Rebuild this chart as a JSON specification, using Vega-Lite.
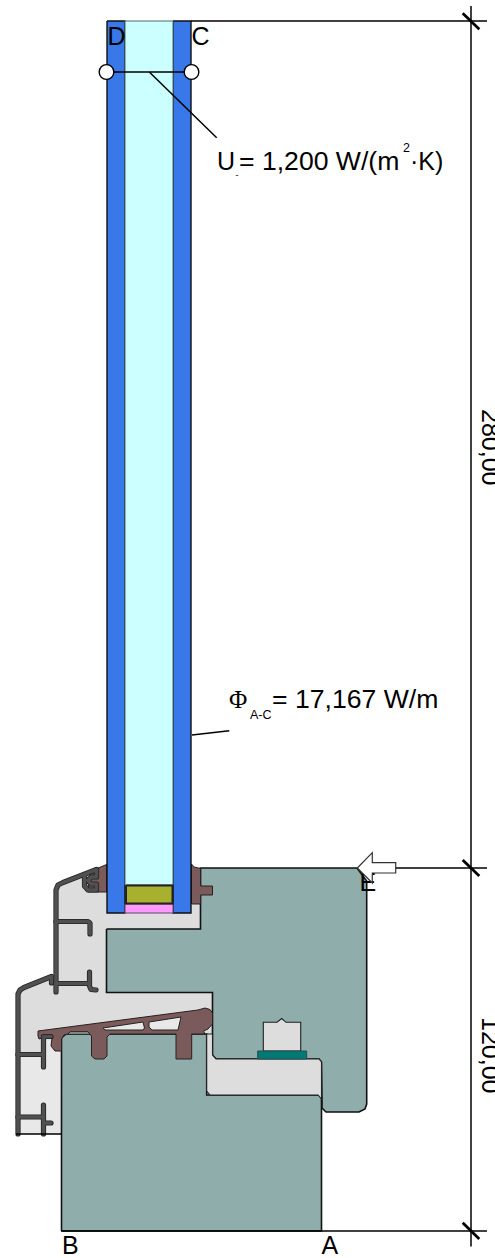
{"$schema":"https://vega.github.io/schema/vega-lite/v6.json","width":495,"height":1258,"padding":0,"autosize":"none","background":"white","config":{"view":{"stroke":null}},
"datasets":{"shapes":[
{"p":"light","s":"l1","i":0,"x":18,"y":1055},{"p":"light","s":"l1","i":1,"x":44,"y":1055},{"p":"light","s":"l1","i":2,"x":44,"y":1036},{"p":"light","s":"l1","i":3,"x":61.5,"y":1036},{"p":"light","s":"l1","i":4,"x":61.5,"y":1134},{"p":"light","s":"l1","i":5,"x":18,"y":1134},{"p":"light","s":"l1","i":6,"x":18,"y":1055},
{"p":"gray","s":"g1","i":0,"x":56,"y":890},{"p":"gray","s":"g1","i":1,"x":58,"y":885},{"p":"gray","s":"g1","i":2,"x":63,"y":882.5},{"p":"gray","s":"g1","i":3,"x":107,"y":866},{"p":"gray","s":"g1","i":4,"x":107,"y":913},{"p":"gray","s":"g1","i":5,"x":200.5,"y":904},{"p":"gray","s":"g1","i":6,"x":200.5,"y":929},{"p":"gray","s":"g1","i":7,"x":106.5,"y":929},{"p":"gray","s":"g1","i":8,"x":106.5,"y":992.5},{"p":"gray","s":"g1","i":9,"x":212.5,"y":992.5},{"p":"gray","s":"g1","i":10,"x":212.5,"y":1040},{"p":"gray","s":"g1","i":11,"x":44,"y":1040},{"p":"gray","s":"g1","i":12,"x":44,"y":1055},{"p":"gray","s":"g1","i":13,"x":18,"y":1055},{"p":"gray","s":"g1","i":14,"x":18,"y":994},{"p":"gray","s":"g1","i":15,"x":20,"y":990},{"p":"gray","s":"g1","i":16,"x":24,"y":987.5},{"p":"gray","s":"g1","i":17,"x":54,"y":976.5},
{"p":"teal","s":"frame","i":0,"x":61.5,"y":1231},{"p":"teal","s":"frame","i":1,"x":321.5,"y":1231},{"p":"teal","s":"frame","i":2,"x":321.5,"y":1095},{"p":"teal","s":"frame","i":3,"x":206.7,"y":1095},{"p":"teal","s":"frame","i":4,"x":206.7,"y":1034},{"p":"teal","s":"frame","i":5,"x":66,"y":1034},{"p":"teal","s":"frame","i":6,"x":61.5,"y":1038},{"p":"teal","s":"frame","i":7,"x":61.5,"y":1231},
{"p":"teal","s":"sash","i":0,"x":106.5,"y":929},{"p":"teal","s":"sash","i":1,"x":200.5,"y":929},{"p":"teal","s":"sash","i":2,"x":200.5,"y":868},{"p":"teal","s":"sash","i":3,"x":357,"y":868},{"p":"teal","s":"sash","i":4,"x":366.7,"y":881},{"p":"teal","s":"sash","i":5,"x":366.7,"y":1104},{"p":"teal","s":"sash","i":6,"x":365,"y":1109},{"p":"teal","s":"sash","i":7,"x":359,"y":1112},{"p":"teal","s":"sash","i":8,"x":326,"y":1112},{"p":"teal","s":"sash","i":9,"x":322,"y":1108},{"p":"teal","s":"sash","i":10,"x":322,"y":1099},{"p":"teal","s":"sash","i":11,"x":321.5,"y":1062},{"p":"teal","s":"sash","i":12,"x":319,"y":1059},{"p":"teal","s":"sash","i":13,"x":216,"y":1059},{"p":"teal","s":"sash","i":14,"x":212.5,"y":1055},{"p":"teal","s":"sash","i":15,"x":212.5,"y":992.5},{"p":"teal","s":"sash","i":16,"x":106.5,"y":992.5},{"p":"teal","s":"sash","i":17,"x":106.5,"y":929},
{"p":"slot","s":"slot","i":0,"x":206.7,"y":1034},{"p":"slot","s":"slot","i":1,"x":212.5,"y":1034},{"p":"slot","s":"slot","i":2,"x":212.5,"y":1055},{"p":"slot","s":"slot","i":3,"x":216,"y":1059},{"p":"slot","s":"slot","i":4,"x":319,"y":1059},{"p":"slot","s":"slot","i":5,"x":321.5,"y":1062},{"p":"slot","s":"slot","i":6,"x":321.5,"y":1099},{"p":"slot","s":"slot","i":7,"x":318,"y":1095},{"p":"slot","s":"slot","i":8,"x":210,"y":1095},{"p":"slot","s":"slot","i":9,"x":206.7,"y":1091},{"p":"slot","s":"slot","i":10,"x":206.7,"y":1034},
{"p":"slot","s":"bolt","i":0,"x":263.3,"y":1051},{"p":"slot","s":"bolt","i":1,"x":263.3,"y":1022.3},{"p":"slot","s":"bolt","i":2,"x":277,"y":1022.3},{"p":"slot","s":"bolt","i":3,"x":281.7,"y":1018.5},{"p":"slot","s":"bolt","i":4,"x":286,"y":1022.3},{"p":"slot","s":"bolt","i":5,"x":300.7,"y":1022.3},{"p":"slot","s":"bolt","i":6,"x":300.7,"y":1051},{"p":"slot","s":"bolt","i":7,"x":263.3,"y":1051},
{"p":"gasket","s":"gk","i":0,"x":257.7,"y":1051},{"p":"gasket","s":"gk","i":1,"x":306.7,"y":1051},{"p":"gasket","s":"gk","i":2,"x":306.7,"y":1059},{"p":"gasket","s":"gk","i":3,"x":257.7,"y":1059},{"p":"gasket","s":"gk","i":4,"x":257.7,"y":1051},
{"p":"brown","s":"drip","i":0,"x":38,"y":1031},{"p":"brown","s":"drip","i":1,"x":198,"y":1010},{"p":"brown","s":"drip","i":2,"x":205,"y":1008},{"p":"brown","s":"drip","i":3,"x":210,"y":1009.5},{"p":"brown","s":"drip","i":4,"x":212.5,"y":1013},{"p":"brown","s":"drip","i":5,"x":212.5,"y":1024},{"p":"brown","s":"drip","i":6,"x":208,"y":1029},{"p":"brown","s":"drip","i":7,"x":203.5,"y":1031},{"p":"brown","s":"drip","i":8,"x":205,"y":1034},{"p":"brown","s":"drip","i":9,"x":191.7,"y":1034},{"p":"brown","s":"drip","i":10,"x":191.7,"y":1059},{"p":"brown","s":"drip","i":11,"x":176,"y":1059},{"p":"brown","s":"drip","i":12,"x":176,"y":1034},{"p":"brown","s":"drip","i":13,"x":110,"y":1034},{"p":"brown","s":"drip","i":14,"x":107,"y":1037},{"p":"brown","s":"drip","i":15,"x":107,"y":1056},{"p":"brown","s":"drip","i":16,"x":104,"y":1059},{"p":"brown","s":"drip","i":17,"x":95,"y":1059},{"p":"brown","s":"drip","i":18,"x":91.5,"y":1056},{"p":"brown","s":"drip","i":19,"x":91.5,"y":1036},{"p":"brown","s":"drip","i":20,"x":88,"y":1032},{"p":"brown","s":"drip","i":21,"x":70,"y":1032},{"p":"brown","s":"drip","i":22,"x":68,"y":1034},{"p":"brown","s":"drip","i":23,"x":64,"y":1035},{"p":"brown","s":"drip","i":24,"x":61.5,"y":1039},{"p":"brown","s":"drip","i":25,"x":61.5,"y":1051},{"p":"brown","s":"drip","i":26,"x":55,"y":1051},{"p":"brown","s":"drip","i":27,"x":51,"y":1046},{"p":"brown","s":"drip","i":28,"x":52,"y":1038},{"p":"brown","s":"drip","i":29,"x":42,"y":1038},{"p":"brown","s":"drip","i":30,"x":39,"y":1039},{"p":"brown","s":"drip","i":31,"x":38,"y":1036},{"p":"brown","s":"drip","i":32,"x":38,"y":1031},
{"p":"brown","s":"wedgeL","i":0,"x":90,"y":871.5},{"p":"brown","s":"wedgeL","i":1,"x":106.5,"y":864.5},{"p":"brown","s":"wedgeL","i":2,"x":106.5,"y":892},{"p":"brown","s":"wedgeL","i":3,"x":88,"y":892},{"p":"brown","s":"wedgeL","i":4,"x":90,"y":871.5},
{"p":"brown","s":"wedgeR","i":0,"x":191.5,"y":864},{"p":"brown","s":"wedgeR","i":1,"x":194,"y":867},{"p":"brown","s":"wedgeR","i":2,"x":200.6,"y":868.5},{"p":"brown","s":"wedgeR","i":3,"x":200.6,"y":886},{"p":"brown","s":"wedgeR","i":4,"x":212.5,"y":886},{"p":"brown","s":"wedgeR","i":5,"x":212.5,"y":895},{"p":"brown","s":"wedgeR","i":6,"x":200.6,"y":895},{"p":"brown","s":"wedgeR","i":7,"x":200.6,"y":904},{"p":"brown","s":"wedgeR","i":8,"x":191.5,"y":904},{"p":"brown","s":"wedgeR","i":9,"x":191.5,"y":864},
{"p":"hole","s":"h1","i":0,"x":103,"y":1028},{"p":"hole","s":"h1","i":1,"x":143,"y":1022},{"p":"hole","s":"h1","i":2,"x":144.5,"y":1028},{"p":"hole","s":"h1","i":3,"x":143,"y":1030},{"p":"hole","s":"h1","i":4,"x":105,"y":1030},{"p":"hole","s":"h1","i":5,"x":103,"y":1028},
{"p":"hole","s":"h2","i":0,"x":149,"y":1022},{"p":"hole","s":"h2","i":1,"x":181,"y":1017},{"p":"hole","s":"h2","i":2,"x":178,"y":1030},{"p":"hole","s":"h2","i":3,"x":152,"y":1030},{"p":"hole","s":"h2","i":4,"x":149,"y":1027},{"p":"hole","s":"h2","i":5,"x":149,"y":1022},
{"p":"hole","s":"h3","i":0,"x":70,"y":1032},{"p":"hole","s":"h3","i":1,"x":88,"y":1032},{"p":"hole","s":"h3","i":2,"x":90,"y":1034},{"p":"hole","s":"h3","i":3,"x":68,"y":1034},{"p":"hole","s":"h3","i":4,"x":70,"y":1032},
{"p":"blue","s":"bl","i":0,"x":107,"y":21},{"p":"blue","s":"bl","i":1,"x":125,"y":21},{"p":"blue","s":"bl","i":2,"x":125,"y":913},{"p":"blue","s":"bl","i":3,"x":107,"y":913},{"p":"blue","s":"bl","i":4,"x":107,"y":21},
{"p":"blue","s":"br","i":0,"x":173,"y":21},{"p":"blue","s":"br","i":1,"x":191,"y":21},{"p":"blue","s":"br","i":2,"x":191,"y":913},{"p":"blue","s":"br","i":3,"x":173,"y":913},{"p":"blue","s":"br","i":4,"x":173,"y":21},
{"p":"cyan","s":"cy","i":0,"x":125,"y":21},{"p":"cyan","s":"cy","i":1,"x":173,"y":21},{"p":"cyan","s":"cy","i":2,"x":173,"y":885},{"p":"cyan","s":"cy","i":3,"x":125,"y":885},{"p":"cyan","s":"cy","i":4,"x":125,"y":21},
{"p":"olive","s":"ol","i":0,"x":126,"y":885.5},{"p":"olive","s":"ol","i":1,"x":172.5,"y":885.5},{"p":"olive","s":"ol","i":2,"x":172.5,"y":903.5},{"p":"olive","s":"ol","i":3,"x":126,"y":903.5},{"p":"olive","s":"ol","i":4,"x":126,"y":885.5},
{"p":"pink","s":"pk","i":0,"x":125,"y":904},{"p":"pink","s":"pk","i":1,"x":173,"y":904},{"p":"pink","s":"pk","i":2,"x":173,"y":913},{"p":"pink","s":"pk","i":3,"x":125,"y":913},{"p":"pink","s":"pk","i":4,"x":125,"y":904},
{"p":"dark","s":"out1","i":0,"x":56,"y":992},{"p":"dark","s":"out1","i":1,"x":56,"y":890},{"p":"dark","s":"out1","i":2,"x":58,"y":885},{"p":"dark","s":"out1","i":3,"x":63,"y":882.5},{"p":"dark","s":"out1","i":4,"x":96.5,"y":869.5},
{"p":"dark","s":"clip","i":0,"x":84.5,"y":875},{"p":"dark","s":"clip","i":1,"x":84.5,"y":886},{"p":"dark","s":"clip","i":2,"x":88,"y":890},{"p":"dark","s":"clip","i":3,"x":96.5,"y":890},{"p":"dark","s":"clip","i":4,"x":96.5,"y":884},{"p":"dark","s":"clip","i":5,"x":91,"y":884},{"p":"dark","s":"clip","i":6,"x":88,"y":880.5},{"p":"dark","s":"clip","i":7,"x":91,"y":877},{"p":"dark","s":"clip","i":8,"x":96.5,"y":877},{"p":"dark","s":"clip","i":9,"x":96.5,"y":869.5},
{"p":"dark","s":"arm1","i":0,"x":56,"y":921.5},{"p":"dark","s":"arm1","i":1,"x":88,"y":921.5},{"p":"dark","s":"arm1","i":2,"x":90,"y":923},{"p":"dark","s":"arm1","i":3,"x":90,"y":934},
{"p":"dark","s":"arm2","i":0,"x":56,"y":983.5},{"p":"dark","s":"arm2","i":1,"x":89.5,"y":983.5},
{"p":"dark","s":"arm3","i":0,"x":89.5,"y":972},{"p":"dark","s":"arm3","i":1,"x":89.5,"y":986},{"p":"dark","s":"arm3","i":2,"x":91,"y":989.5},{"p":"dark","s":"arm3","i":3,"x":96,"y":990},
{"p":"dark","s":"out2","i":0,"x":18,"y":1134},{"p":"dark","s":"out2","i":1,"x":18,"y":994},{"p":"dark","s":"out2","i":2,"x":20,"y":990},{"p":"dark","s":"out2","i":3,"x":24,"y":987.5},{"p":"dark","s":"out2","i":4,"x":51.5,"y":976.5},{"p":"dark","s":"out2","i":5,"x":51.5,"y":983},
{"p":"dark","s":"arm4","i":0,"x":18,"y":1054.5},{"p":"dark","s":"arm4","i":1,"x":43,"y":1054.5},
{"p":"dark","s":"arm5","i":0,"x":51,"y":1036.5},{"p":"dark","s":"arm5","i":1,"x":43.5,"y":1036.5},{"p":"dark","s":"arm5","i":2,"x":43.5,"y":1067},
{"p":"dark","s":"arm6","i":0,"x":43.5,"y":1105},{"p":"dark","s":"arm6","i":1,"x":43.5,"y":1134},
{"p":"dark","s":"arm7","i":0,"x":18,"y":1117},{"p":"dark","s":"arm7","i":1,"x":43.5,"y":1117},
{"p":"dark","s":"arm8","i":0,"x":44,"y":1123},{"p":"dark","s":"arm8","i":1,"x":51,"y":1123},
{"p":"thin","s":"dimV","i":0,"x":471,"y":6},{"p":"thin","s":"dimV","i":1,"x":471,"y":1246.5},
{"p":"thin","s":"dimT","i":0,"x":191,"y":21},{"p":"thin","s":"dimT","i":1,"x":487,"y":21},
{"p":"thin","s":"dimM","i":0,"x":396,"y":868},{"p":"thin","s":"dimM","i":1,"x":487,"y":868},
{"p":"thin","s":"dimB","i":0,"x":61,"y":1231},{"p":"thin","s":"dimB","i":1,"x":487,"y":1231},
{"p":"thin","s":"base","i":0,"x":16,"y":1134},{"p":"thin","s":"base","i":1,"x":61.5,"y":1134},
{"p":"thin","s":"section","i":0,"x":107,"y":72},{"p":"thin","s":"section","i":1,"x":191,"y":72},
{"p":"thin","s":"lead1","i":0,"x":149.3,"y":72},{"p":"thin","s":"lead1","i":1,"x":216.7,"y":137.7},
{"p":"thin","s":"lead2","i":0,"x":192,"y":735},{"p":"thin","s":"lead2","i":1,"x":229.3,"y":730.7},
{"p":"tick","s":"t1","i":0,"x":462.7,"y":13.3},{"p":"tick","s":"t1","i":1,"x":479.3,"y":29.3},
{"p":"tick","s":"t2","i":0,"x":462.7,"y":860},{"p":"tick","s":"t2","i":1,"x":479.3,"y":876},
{"p":"tick","s":"t3","i":0,"x":462.7,"y":1222.7},{"p":"tick","s":"t3","i":1,"x":479.3,"y":1239},
{"p":"arrow","s":"ar","i":0,"x":357.3,"y":868},{"p":"arrow","s":"ar","i":1,"x":372.3,"y":852.7},{"p":"arrow","s":"ar","i":2,"x":372.3,"y":862.7},{"p":"arrow","s":"ar","i":3,"x":395.7,"y":862.7},{"p":"arrow","s":"ar","i":4,"x":395.7,"y":873},{"p":"arrow","s":"ar","i":5,"x":372.3,"y":873},{"p":"arrow","s":"ar","i":6,"x":372.3,"y":883},{"p":"arrow","s":"ar","i":7,"x":357.3,"y":868}
],
"labels":[
{"k":"main","t":"D","x":107.5,"y":45},{"k":"main","t":"C","x":191.5,"y":45},{"k":"main","t":"B","x":62,"y":1254},{"k":"main","t":"A","x":321.5,"y":1254},
{"k":"main","t":"U","x":217,"y":170},{"k":"wide","t":"= 1,200 W/(m","x":239,"y":170},{"k":"main","t":"·K)","x":410,"y":170},{"k":"wide","t":"= 17,167 W/m","x":272,"y":708},
{"k":"small","t":"2","x":403,"y":152},{"k":"small","t":"A-C","x":250,"y":719},{"k":"tiny","t":"-","x":235.5,"y":178},
{"k":"serif","t":"Φ","x":229,"y":708},{"k":"rot","t":"280,00","x":481.5,"y":409},{"k":"rot","t":"120,00","x":481.5,"y":1017}
],
"circles":[{"x":106.5,"y":72},{"x":191.5,"y":72}],
"edge":[{"k":"E","t":"E","x":359.5,"y":891}]
},
"data":{"name":"shapes"},
"encoding":{"x":{"field":"x","type":"quantitative","scale":{"domain":[0,495],"range":[0,495]},"axis":null},"y":{"field":"y","type":"quantitative","scale":{"domain":[0,1258],"range":[0,1258]},"axis":null}},
"layer":[
{"transform":[{"filter":"datum.p=='light'"}],"mark":{"type":"line","fill":"#e8e8e8","stroke":"#e8e8e8","strokeWidth":0.5},"encoding":{"detail":{"field":"s"},"order":{"field":"i"}}},
{"transform":[{"filter":"datum.p=='gray'"}],"mark":{"type":"line","fill":"#dddddd","stroke":"#dddddd","strokeWidth":0.5},"encoding":{"detail":{"field":"s"},"order":{"field":"i"}}},
{"transform":[{"filter":"datum.p=='teal'"}],"mark":{"type":"line","fill":"#8fadab","stroke":"#111111","strokeWidth":1.6},"encoding":{"detail":{"field":"s"},"order":{"field":"i"}}},
{"transform":[{"filter":"datum.p=='slot'"}],"mark":{"type":"line","fill":"#dddddd","stroke":"#222222","strokeWidth":1.1},"encoding":{"detail":{"field":"s"},"order":{"field":"i"}}},
{"transform":[{"filter":"datum.p=='gasket'"}],"mark":{"type":"line","fill":"#007a76","stroke":"#2a4a48","strokeWidth":1},"encoding":{"detail":{"field":"s"},"order":{"field":"i"}}},
{"transform":[{"filter":"datum.p=='brown'"}],"mark":{"type":"line","fill":"#7a5a5a","stroke":"#2a2020","strokeWidth":1},"encoding":{"detail":{"field":"s"},"order":{"field":"i"}}},
{"transform":[{"filter":"datum.p=='hole'"}],"mark":{"type":"line","fill":"#e8e8e8","stroke":"#222222","strokeWidth":1},"encoding":{"detail":{"field":"s"},"order":{"field":"i"}}},
{"transform":[{"filter":"datum.p=='blue'"}],"mark":{"type":"line","fill":"#3878e8","stroke":"#111111","strokeWidth":1.4},"encoding":{"detail":{"field":"s"},"order":{"field":"i"}}},
{"transform":[{"filter":"datum.p=='cyan'"}],"mark":{"type":"line","fill":"#ccffff","stroke":"#4a6a70","strokeWidth":1},"encoding":{"detail":{"field":"s"},"order":{"field":"i"}}},
{"transform":[{"filter":"datum.p=='pink'"}],"mark":{"type":"line","fill":"#ff99ff","stroke":"#5a4a6a","strokeWidth":1},"encoding":{"detail":{"field":"s"},"order":{"field":"i"}}},
{"transform":[{"filter":"datum.p=='olive'"}],"mark":{"type":"line","fill":"#a8b030","stroke":"#222222","strokeWidth":2},"encoding":{"detail":{"field":"s"},"order":{"field":"i"}}},
{"transform":[{"filter":"datum.p=='dark'"}],"mark":{"type":"line","stroke":"#222222","strokeWidth":5.2,"strokeCap":"round","strokeJoin":"round"},"encoding":{"detail":{"field":"s"},"order":{"field":"i"}}},
{"transform":[{"filter":"datum.p=='dark'"}],"mark":{"type":"line","stroke":"#505050","strokeWidth":3.6,"strokeCap":"round","strokeJoin":"round"},"encoding":{"detail":{"field":"s"},"order":{"field":"i"}}},
{"transform":[{"filter":"datum.p=='thin'"}],"mark":{"type":"line","stroke":"#000000","strokeWidth":1.5},"encoding":{"detail":{"field":"s"},"order":{"field":"i"}}},
{"transform":[{"filter":"datum.p=='tick'"}],"mark":{"type":"line","stroke":"#000000","strokeWidth":2.8},"encoding":{"detail":{"field":"s"},"order":{"field":"i"}}},
{"data":{"name":"edge"},"mark":{"type":"text","font":"Liberation Sans","fontSize":25,"align":"left","baseline":"alphabetic","fill":"#000000"},"encoding":{"text":{"field":"t"}}},
{"transform":[{"filter":"datum.p=='arrow'"}],"mark":{"type":"line","fill":"#ffffff","stroke":"#333333","strokeWidth":1.2},"encoding":{"detail":{"field":"s"},"order":{"field":"i"}}},
{"data":{"name":"circles"},"mark":{"type":"point","shape":"circle","size":215,"filled":true,"fill":"#ffffff","stroke":"#000000","strokeWidth":1.4,"opacity":1}},
{"data":{"name":"labels"},"transform":[{"filter":"datum.k=='main'"}],"mark":{"type":"text","font":"Liberation Sans","fontSize":25,"align":"left","baseline":"alphabetic","fill":"#000000"},"encoding":{"text":{"field":"t"}}},
{"data":{"name":"labels"},"transform":[{"filter":"datum.k=='wide'"}],"mark":{"type":"text","font":"Liberation Sans","fontSize":26.6,"align":"left","baseline":"alphabetic","fill":"#000000"},"encoding":{"text":{"field":"t"}}},
{"data":{"name":"labels"},"transform":[{"filter":"datum.k=='small'"}],"mark":{"type":"text","font":"Liberation Sans","fontSize":12.5,"align":"left","baseline":"alphabetic","fill":"#000000"},"encoding":{"text":{"field":"t"}}},
{"data":{"name":"labels"},"transform":[{"filter":"datum.k=='tiny'"}],"mark":{"type":"text","font":"Liberation Sans","fontSize":9,"align":"left","baseline":"alphabetic","fill":"#000000"},"encoding":{"text":{"field":"t"}}},
{"data":{"name":"labels"},"transform":[{"filter":"datum.k=='serif'"}],"mark":{"type":"text","font":"Liberation Serif","fontSize":25,"align":"left","baseline":"alphabetic","fill":"#000000"},"encoding":{"text":{"field":"t"}}},
{"data":{"name":"labels"},"transform":[{"filter":"datum.k=='rot'"}],"mark":{"type":"text","font":"Liberation Sans","fontSize":25,"align":"left","baseline":"alphabetic","angle":90,"fill":"#000000"},"encoding":{"text":{"field":"t"}}}
]}
